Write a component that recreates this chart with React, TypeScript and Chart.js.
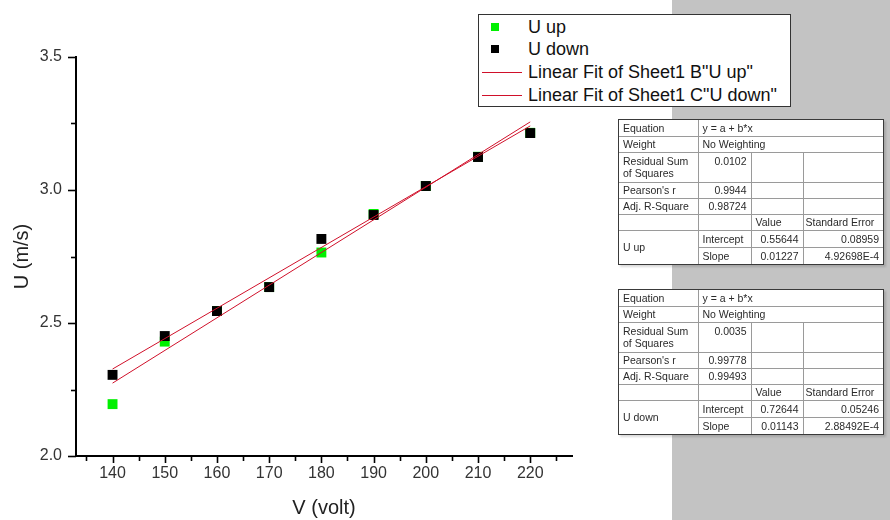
import React, { useEffect, useRef } from "react";
import { Chart, registerables } from "chart.js";

Chart.register(...registerables);

// ---- data ----
const voltages = [140, 150, 160, 170, 180, 190, 200, 210, 220];
const uUp = [2.195, 2.43, 2.545, 2.635, 2.765, 2.91, 3.015, 3.125, 3.215];
const uDown = [2.305, 2.451, 2.545, 2.635, 2.816, 2.906, 3.015, 3.124, 3.214];
const fitX = [140, 220];
const fitUpY = [2.274, 3.256];
const fitDownY = [2.327, 3.241];

const xMajorTicks = [140, 150, 160, 170, 180, 190, 200, 210, 220];
const xMinorTicks = [135, 145, 155, 165, 175, 185, 195, 205, 215, 225];
const yMajorTicks = [2.0, 2.5, 3.0, 3.5];
const yMinorTicks = [2.25, 2.75, 3.25];

const xTitle = "V (volt)";
const yTitle = "U (m/s)";
const seriesNames = ["U up", "U down", 'Linear Fit of Sheet1 B"U up"', 'Linear Fit of Sheet1 C"U down"'];

const statsUp = ["0.0102", "0.9944", "0.98724", "0.55644", "0.08959", "0.01227", "4.92698E-4"];
const statsDown = ["0.0035", "0.99778", "0.99493", "0.72644", "0.05246", "0.01143", "2.88492E-4"];
const tableNames = ["U up", "U down"];

const FONT = "'Liberation Sans', Arial, sans-serif";
const GREEN = "#00f000";
const RED = "#d0102a";

const tickPlugin = {
  id: "originTicks",
  afterDraw(chart: any) {
    const { ctx } = chart;
    const x = chart.scales.x;
    const y = chart.scales.y;
    ctx.save();
    ctx.strokeStyle = "#000";
    ctx.lineWidth = 1.6;
    const base = chart.chartArea.bottom;
    const left = chart.chartArea.left;
    const drawX = (v: number, len: number) => {
      const p = Math.round(x.getPixelForValue(v)) + 0.5;
      ctx.beginPath();
      ctx.moveTo(p, base);
      ctx.lineTo(p, base + len);
      ctx.stroke();
    };
    const drawY = (v: number, len: number) => {
      const p = Math.round(y.getPixelForValue(v)) + 0.5;
      ctx.beginPath();
      ctx.moveTo(left, p);
      ctx.lineTo(left - len, p);
      ctx.stroke();
    };
    xMajorTicks.forEach((v) => drawX(v, 7));
    xMinorTicks.forEach((v) => drawX(v, 5));
    yMajorTicks.forEach((v) => drawY(v, 8));
    yMinorTicks.forEach((v) => drawY(v, 5));
    ctx.restore();
  },
};

function StatsTable({ top, name, s }: { top: number; name: string; s: string[] }) {
  const cols = [79, 53, 52, 80];
  const rows = [16, 16, 30, 16, 16, 16, 17, 17];
  const inner = "1px solid #9a9a9a";
  const td = (extra: any = {}) => ({
    border: inner,
    padding: "0 4px",
    fontSize: 10.5,
    color: "#2a2a2a",
    whiteSpace: "nowrap" as const,
    overflow: "hidden",
    lineHeight: "12px",
    ...extra,
  });
  const L = { textAlign: "left" as const };
  const R = { textAlign: "right" as const };
  return (
    <div
      style={{
        position: "absolute",
        left: 618,
        top,
        background: "#fff",
        border: "1px solid #3a3a3a",
        boxShadow: "2px 2px 2px rgba(0,0,0,0.15)",
      }}
    >
      <table
        style={{
          borderCollapse: "collapse",
          tableLayout: "fixed",
          width: cols.reduce((a, b) => a + b, 0),
          fontFamily: FONT,
          borderStyle: "hidden",
        }}
      >
        <colgroup>
          {cols.map((c, i) => (
            <col key={i} style={{ width: c }} />
          ))}
        </colgroup>
        <tbody>
          <tr style={{ height: rows[0] }}>
            <td style={td(L)}>Equation</td>
            <td style={td(L)} colSpan={3}>y = a + b*x</td>
          </tr>
          <tr style={{ height: rows[1] }}>
            <td style={td(L)}>Weight</td>
            <td style={td(L)} colSpan={3}>No Weighting</td>
          </tr>
          <tr style={{ height: rows[2] }}>
            <td style={td({ ...L, whiteSpace: "normal", verticalAlign: "top", paddingTop: 2 })}>
              Residual Sum of Squares
            </td>
            <td style={td({ ...R, verticalAlign: "top", paddingTop: 2 })}>{s[0]}</td>
            <td style={td()}></td>
            <td style={td()}></td>
          </tr>
          <tr style={{ height: rows[3] }}>
            <td style={td(L)}>Pearson's r</td>
            <td style={td(R)}>{s[1]}</td>
            <td style={td()}></td>
            <td style={td()}></td>
          </tr>
          <tr style={{ height: rows[4] }}>
            <td style={td(L)}>Adj. R-Square</td>
            <td style={td(R)}>{s[2]}</td>
            <td style={td()}></td>
            <td style={td()}></td>
          </tr>
          <tr style={{ height: rows[5] }}>
            <td style={td()}></td>
            <td style={td()}></td>
            <td style={td(L)}>Value</td>
            <td style={td({ ...L, padding: "0 2px" })}>Standard Error</td>
          </tr>
          <tr style={{ height: rows[6] }}>
            <td style={td(L)} rowSpan={2}>{name}</td>
            <td style={td(L)}>Intercept</td>
            <td style={td(R)}>{s[3]}</td>
            <td style={td(R)}>{s[4]}</td>
          </tr>
          <tr style={{ height: rows[7] }}>
            <td style={td(L)}>Slope</td>
            <td style={td(R)}>{s[5]}</td>
            <td style={td(R)}>{s[6]}</td>
          </tr>
        </tbody>
      </table>
    </div>
  );
}

function Legend() {
  const rowY = [27, 49, 72, 95];
  return (
    <div
      style={{
        position: "absolute",
        left: 478,
        top: 14,
        width: 311,
        height: 91,
        background: "#fff",
        border: "1px solid #333",
        fontFamily: FONT,
        fontSize: 18,
        color: "#111",
      }}
    >
      {seriesNames.map((n, i) => (
        <div key={i}>
          {i < 2 ? (
            <div
              style={{
                position: "absolute",
                left: 491 - 479,
                top: rowY[i] - 15 - 4,
                width: 8,
                height: 8,
                background: i === 0 ? GREEN : "#000",
              }}
            />
          ) : (
            <div
              style={{
                position: "absolute",
                left: 482 - 479,
                top: rowY[i] - 15,
                width: 40,
                height: 1,
                background: RED,
              }}
            />
          )}
          <div
            style={{
              position: "absolute",
              left: 528 - 479,
              top: rowY[i] - 15 - 11,
              lineHeight: "22px",
              whiteSpace: "nowrap",
            }}
          >
            {n}
          </div>
        </div>
      ))}
    </div>
  );
}

export default function App() {
  const canvasRef = useRef<HTMLCanvasElement | null>(null);

  useEffect(() => {
    if (!canvasRef.current) return;
    const tickFont = { family: FONT, size: 16 };
    const titleFont = { family: FONT, size: 20 };
    const chart = new Chart(canvasRef.current, {
      type: "scatter",
      data: {
        datasets: [
          {
            type: "line",
            label: seriesNames[2],
            data: fitX.map((x, i) => ({ x, y: fitUpY[i] })),
            borderColor: RED,
            borderWidth: 1,
            pointRadius: 0,
            fill: false,
            order: 0,
          },
          {
            type: "line",
            label: seriesNames[3],
            data: fitX.map((x, i) => ({ x, y: fitDownY[i] })),
            borderColor: RED,
            borderWidth: 1,
            pointRadius: 0,
            fill: false,
            order: 0,
          },
          {
            label: seriesNames[1],
            data: voltages.map((x, i) => ({ x, y: uDown[i] })),
            backgroundColor: "#000",
            borderWidth: 0,
            pointStyle: "rect",
            pointRadius: 7,
            order: 1,
          },
          {
            label: seriesNames[0],
            data: voltages.map((x, i) => ({ x, y: uUp[i] })),
            backgroundColor: GREEN,
            borderWidth: 0,
            pointStyle: "rect",
            pointRadius: 7,
            order: 2,
          },
        ],
      } as any,
      options: {
        responsive: false,
        maintainAspectRatio: false,
        animation: false,
        layout: { padding: { left: 0, right: 318, top: 57, bottom: 0 } },
        plugins: { legend: { display: false }, tooltip: { enabled: false } },
        scales: {
          x: {
            type: "linear",
            min: 133,
            max: 228,
            afterBuildTicks: (s: any) => {
              s.ticks = xMajorTicks.map((v) => ({ value: v }));
            },
            afterFit: (s: any) => {
              s.height = 64;
            },
            grid: { display: true, drawOnChartArea: false, drawTicks: false },
            border: { display: true, color: "#000", width: 2 },
            ticks: {
              padding: 8,
              color: "#333",
              font: tickFont,
              maxRotation: 0,
              autoSkip: false,
              callback: (v: any) => String(v),
            },
            title: {
              display: true,
              text: xTitle,
              color: "#222",
              font: titleFont,
              padding: { top: 0, bottom: 0 },
            },
          },
          y: {
            type: "linear",
            min: 2.0,
            max: 3.5,
            afterBuildTicks: (s: any) => {
              s.ticks = yMajorTicks.map((v) => ({ value: v }));
            },
            afterFit: (s: any) => {
              s.width = 76;
            },
            grid: { display: true, drawOnChartArea: false, drawTicks: false },
            border: { display: true, color: "#000", width: 2 },
            ticks: {
              padding: 14,
              color: "#333",
              font: tickFont,
              callback: (v: any) => Number(v).toFixed(1),
            },
            title: {
              display: true,
              text: yTitle,
              color: "#222",
              font: titleFont,
              padding: { top: 10, bottom: 0 },
            },
          },
        },
      } as any,
      plugins: [tickPlugin],
    });
    return () => chart.destroy();
  }, []);

  return (
    <div style={{ position: "fixed", left: 0, top: 0, width: 890, height: 520, background: "#fff", overflow: "hidden" }}>
      <div style={{ position: "absolute", left: 672, top: 0, width: 218, height: 520, background: "#c3c3c3" }} />
      <canvas ref={canvasRef} width={890} height={520} style={{ position: "absolute", left: 0, top: 0, width: 890, height: 520 }} />
      <Legend />
      <StatsTable top={119} name={tableNames[0]} s={statsUp} />
      <StatsTable top={289} name={tableNames[1]} s={statsDown} />
    </div>
  );
}
